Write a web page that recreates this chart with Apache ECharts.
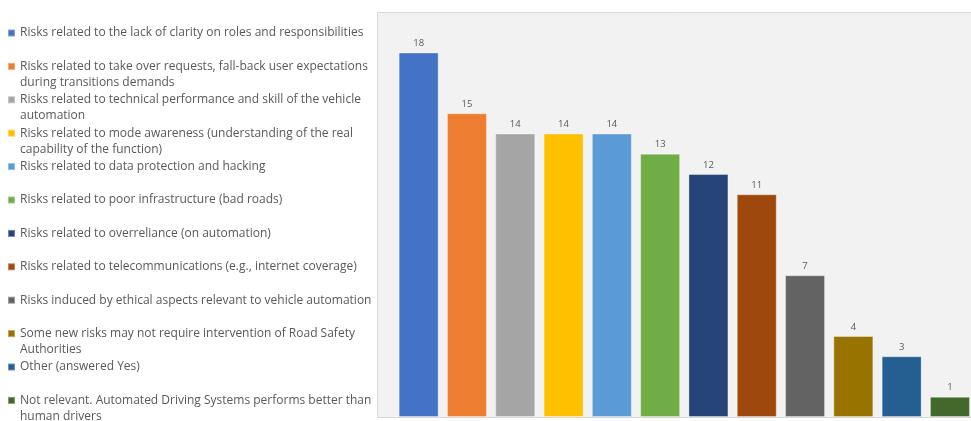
<!DOCTYPE html>
<html>
<head>
<meta charset="utf-8">
<script src="https://cdn.jsdelivr.net/npm/echarts@6/dist/echarts.min.js"></script>
<style>
  html, body { margin: 0; padding: 0; background: #fff; }
  #risk-chart { width: 971px; height: 421px; }
</style>
</head>
<body>
<div id="risk-chart"></div>
<script>
// categories ('\n' marks where the legend text wraps)
var categories = [
  'Risks related to the lack of clarity on roles and responsibilities',
  'Risks related to take over requests, fall-back user expectations\nduring transitions demands',
  'Risks related to technical performance and skill of the vehicle\nautomation',
  'Risks related to mode awareness (understanding of the real\ncapability of the function)',
  'Risks related to data protection and hacking',
  'Risks related to poor infrastructure (bad roads)',
  'Risks related to overreliance (on automation)',
  'Risks related to telecommunications (e.g., internet coverage)',
  'Risks induced by ethical aspects relevant to vehicle automation',
  'Some new risks may not require intervention of Road Safety\nAuthorities',
  'Other (answered Yes)',
  'Not relevant. Automated Driving Systems performs better than\nhuman drivers'
];
var counts = [18, 15, 14, 14, 14, 13, 12, 11, 7, 4, 3, 1];
var barColors = ['#4472C4', '#ED7D31', '#A5A5A5', '#FFC000', '#5B9BD5', '#70AD47',
                 '#264478', '#9E480E', '#636363', '#997300', '#255E91', '#43682B'];

var chart = echarts.init(document.getElementById('risk-chart'));
var font = 'Open Sans';

// one series per category so the legend lists every bar
var series = categories.map(function (name, i) {
  return {
    name: name,
    type: 'bar',
    stack: 'all',
    barWidth: 40,
    data: counts.map(function (v, j) { return j === i ? v : null; }),
    itemStyle: { color: barColors[i], borderColor: 'rgba(255,255,255,0.35)', borderWidth: 1 },
    label: {
      show: true,
      position: 'top',
      distance: 4,
      fontFamily: font,
      fontSize: 9.5,
      color: '#595959'
    }
  };
});

var option = {
  animation: false,
  color: barColors,
  graphic: [{
    type: 'rect',
    z: -10,
    shape: { x: 377.5, y: 12.5, width: 600, height: 405 },
    style: { fill: '#f2f2f2', stroke: '#d9d9d9', lineWidth: 1 }
  }],
  legend: {
    orient: 'vertical',
    left: 7,
    top: 9,
    height: 600,
    padding: 0,
    icon: 'rect',
    itemWidth: 7,
    itemHeight: 7,
    itemGap: -14.6,
    data: categories,
    // pad every entry to 3 lines so the square lines up with the first text line
    formatter: function (name) {
      var parts = name.split('\n');
      return ' \n' + parts[0] + '\n' + (parts[1] || ' ');
    },
    textStyle: {
      fontFamily: font,
      fontSize: 12,
      lineHeight: 16,
      color: '#595959'
    }
  },
  grid: { left: 394.5, width: 579.6, top: 12, bottom: 4, outerBoundsMode: 'none' },
  xAxis: {
    type: 'category',
    data: categories,
    show: false
  },
  yAxis: {
    type: 'value',
    min: 0,
    max: 20,
    show: false
  },
  series: series
};
chart.setOption(option);
</script>
</body>
</html>
